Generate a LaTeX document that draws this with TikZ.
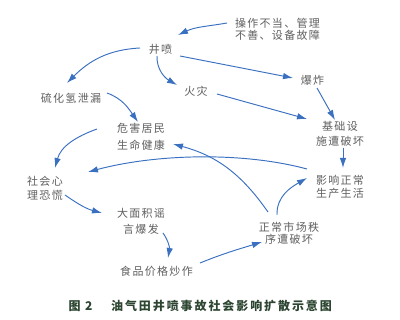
\documentclass[tikz,border=0pt]{standalone}
\usepackage{fontspec}
\newfontfamily\cjk[LetterSpace=12]{Noto Sans CJK SC}
\newfontfamily\capfont[LetterSpace=16]{Noto Sans CJK SC}
\usetikzlibrary{arrows.meta}
\definecolor{arrowblue}{RGB}{58,112,192}
\definecolor{txtgray}{RGB}{95,95,95}
\definecolor{capgreen}{RGB}{45,70,50}
\tikzset{
  lbl/.style={font=\cjk\fontsize{11}{12.5}\selectfont, text=txtgray, align=center, inner sep=0pt},
  captionstyle/.style={font=\capfont\bfseries\fontsize{12}{14}\selectfont, text=capgreen, inner sep=0pt},
  arr/.style={draw=arrowblue, line width=0.95pt, -{Latex[length=10pt,width=6.5pt]}},
}
\begin{document}
\begin{tikzpicture}[x=1pt,y=1pt]
\useasboundingbox (0,0) rectangle (400,320);
\node[lbl] (op) at (277.5,290.5) {操作不当、管理\\不善、设备故障};
\node[lbl] (jp) at (160.5,271) {井喷};
\node[lbl] (h2s) at (71,222) {硫化氢泄漏};
\node[lbl] (fire) at (196,229) {火灾};
\node[lbl] (boom) at (312.5,240) {爆炸};
\node[lbl] (harm) at (141,183.3) {危害居民\\[4pt]生命健康};
\node[lbl] (infra) at (340,185.8) {基础设\\[2.5pt]施遭破坏};
\node[lbl] (panic) at (45,131.7) {社会心\\[1pt]理恐慌};
\node[lbl] (prod) at (340,133) {影响正常\\生产生活};
\node[lbl] (rumor) at (141,98.8) {大面积谣\\[3pt]言爆发};
\node[lbl] (market) at (289,86.7) {正常市场秩\\序遭破坏};
\node[lbl] (food) at (156.5,48.3) {食品价格炒作};
\node[captionstyle] (capnum) at (80.5,14.3) {图 2};
\node[captionstyle] (captext) at (221.5,14.3) {油气田井喷事故社会影响扩散示意图};
\draw[arr] ([shift={(-50.5,6.5)}]op.center) to[out=190,in=25] ([shift={(17.5,14)}]jp.center);
\draw[arr] ([shift={(-20.5,1)}]jp.center) to[out=183,in=45] ([shift={(-4,15)}]h2s.center);
\draw[arr] ([shift={(-3.5,-7)}]jp.center) to[out=-92,in=150] ([shift={(-19,6)}]fire.center);
\draw[arr] ([shift={(19.5,-7)}]jp.center) -- ([shift={(-19.5,2)}]boom.center);
\draw[arr] ([shift={(21,-3)}]fire.center) -- ([shift={(-33,15.2)}]infra.center);
\draw[arr] ([shift={(4.5,-8)}]boom.center) -- ([shift={(-5,14.2)}]infra.center);
\draw[arr] ([shift={(36,5)}]h2s.center) to[out=-20,in=125] ([shift={(-3,14.7)}]harm.center);
\draw[arr] ([shift={(-44,7.7)}]harm.center) to[out=200,in=75] ([shift={(10,20.3)}]panic.center);
\draw[arr] ([shift={(-21,21.3)}]market.center) to[out=125,in=-15] ([shift={(32,-7.3)}]harm.center);
\draw[arr] ([shift={(-33,18)}]prod.center) to[out=165,in=15,looseness=0.8] ([shift={(43,16.3)}]panic.center);
\draw[arr] ([shift={(3,-13.8)}]infra.center) -- ([shift={(3,19)}]prod.center);
\draw[arr] ([shift={(-12,18.3)}]market.center) to[out=92,in=210] ([shift={(-33,9)}]prod.center);
\draw[arr] ([shift={(20,-6.7)}]panic.center) to[out=-35,in=165] ([shift={(-39,8.2)}]rumor.center);
\draw[arr] ([shift={(22,-11.8)}]rumor.center) to[out=-55,in=80] ([shift={(11.5,13.7)}]food.center);
\draw[arr] ([shift={(43.5,8.7)}]food.center) to[out=22,in=197] ([shift={(-27,-8.7)}]market.center);
\end{tikzpicture}
\end{document}
